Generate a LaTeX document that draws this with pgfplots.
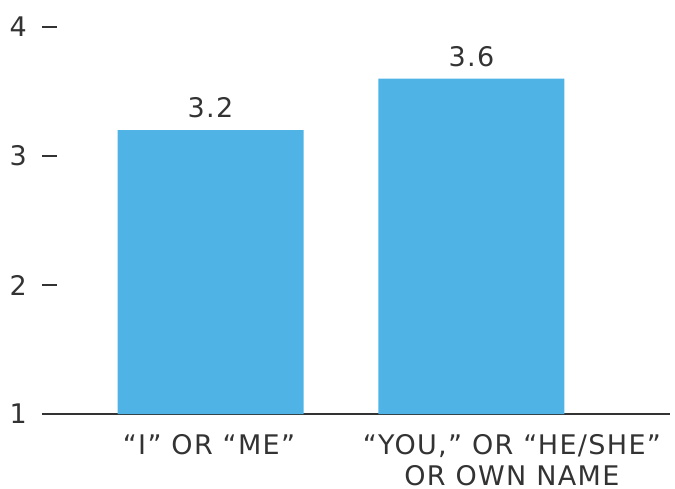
\documentclass[border=0pt]{standalone}
\usepackage{fontspec}
\setmainfont{DejaVu Sans}[LetterSpace=5]
\usepackage{pgfplots}
\pgfplotsset{compat=1.18}
\definecolor{barblue}{HTML}{4FB3E5}
\definecolor{ink}{HTML}{333333}
\begin{document}
\begin{tikzpicture}[x=1pt,y=1pt]
\useasboundingbox (-42,-74) rectangle (633,414);
\begin{axis}[
  at={(0,0)}, anchor=south west,
  scale only axis, width=628pt, height=387pt,
  xmin=0.354, xmax=2.761, ymin=1, ymax=4,
  ytick={1,2,3,4},
  xtick={0.994,2.155},
  xticklabels={{“I” OR “ME”},{“YOU,” OR “HE/SHE”\\OR OWN NAME}},
  /pgf/number format/assume math mode=true,
  axis x line*=bottom, axis y line*=left,
  y axis line style={draw=none},
  x axis line style={ink, line width=2pt, -},
  major tick length=15pt,
  tick align=inside,
  y tick style={ink, line width=2pt},
  x tick style={draw=none},
  yticklabel style={font=\fontsize{27}{30}\selectfont, text=ink, anchor=east, inner sep=0pt, xshift=-15pt},
  xticklabel style={font=\fontsize{27}{31}\selectfont, text=ink, align=center, anchor=north, inner sep=0pt, yshift=-5pt},
  ybar, bar width=186pt,
  nodes near coords,
  nodes near coords style={font=\fontsize{27}{30}\selectfont, text=ink, inner sep=0pt, yshift=12pt, /pgf/number format/fixed, /pgf/number format/precision=1, /pgf/number format/fixed zerofill},
  clip=false,
]
\addplot[fill=barblue, draw=none] coordinates {(1,3.2) (2,3.6)};
\end{axis}
\end{tikzpicture}
\end{document}
